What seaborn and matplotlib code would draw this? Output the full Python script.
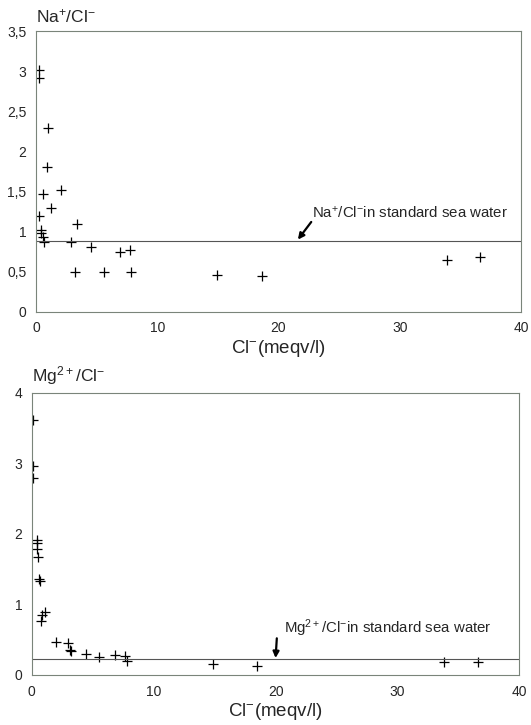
import matplotlib
matplotlib.use("Agg")
import matplotlib.pyplot as plt
import seaborn as sns
import pandas as pd
from matplotlib.ticker import FuncFormatter

# Na+/Cl- panel
na_cl = [0.27, 0.27, 1.0, 0.88, 0.6, 2.04, 1.24, 0.22, 3.36, 0.39, 0.44, 0.6,
         0.69, 2.87, 4.52, 6.94, 7.77, 3.22, 5.62, 7.85, 14.9, 18.6, 33.9, 36.6]
na_ratio = [3.01, 2.92, 2.29, 1.81, 1.47, 1.52, 1.29, 1.19, 1.09, 1.02, 0.98, 0.93,
            0.87, 0.87, 0.81, 0.75, 0.77, 0.50, 0.50, 0.50, 0.46, 0.44, 0.64, 0.68]
na_sea = 0.88

# Mg2+/Cl- panel
mg_cl = [0.13, 0.13, 0.13, 0.4, 0.45, 0.45, 0.5, 0.6, 0.65, 1.07, 0.8, 0.75, 1.96,
         2.95, 3.13, 3.2, 4.47, 5.5, 6.84, 7.64, 7.77, 14.9, 18.5, 33.8, 36.6]
mg_ratio = [3.61, 2.97, 2.80, 1.92, 1.87, 1.78, 1.67, 1.36, 1.33, 0.90, 0.85, 0.77, 0.47,
            0.46, 0.36, 0.34, 0.30, 0.25, 0.29, 0.27, 0.20, 0.15, 0.13, 0.19, 0.18]
mg_sea = 0.22

top_ticks = [0, 0.5, 1, 1.5, 2, 2.5, 3, 3.5]
bottom_ticks = [0, 1, 2, 3, 4]
x_ticks = [0, 10, 20, 30, 40]

sns.set_style("white")
plt.rcParams["font.family"] = ["Liberation Sans", "DejaVu Sans"]
plt.rcParams["mathtext.default"] = "regular"

fig = plt.figure(figsize=(5.31, 7.25), dpi=100)
ax1 = fig.add_axes([0.068, 0.570, 0.913, 0.387])
ax2 = fig.add_axes([0.060, 0.069, 0.918, 0.389])

spine_col = "#7a847a"
comma = FuncFormatter(lambda v, p: ("%g" % v).replace(".", ","))


def style(ax, yticks, ymax):
    ax.set_xlim(0, 40)
    ax.set_ylim(0, ymax)
    ax.set_xticks(x_ticks)
    ax.set_yticks(yticks)
    ax.yaxis.set_major_formatter(comma)
    ax.tick_params(direction="in", length=3, width=0.6, color=spine_col,
                   labelsize=10, pad=7)
    for s in ax.spines.values():
        s.set_color(spine_col)
        s.set_linewidth(0.8)
    ax.set_xlabel("Cl$^{-}$(meqv/l)", fontsize=13.5, labelpad=2)
    ax.set_ylabel("")


def sea_label(ax, text, tail, tip, pos):
    ax.annotate("", xy=tip, xytext=tail,
                arrowprops=dict(arrowstyle="-|>", color="black", lw=1.6,
                                mutation_scale=9, shrinkA=0, shrinkB=0))
    ax.text(pos[0], pos[1], text, fontsize=10.8, ha="left", va="center")


df1 = pd.DataFrame({"cl": na_cl, "ratio": na_ratio})
sns.scatterplot(data=df1, x="cl", y="ratio", marker="+", color="black",
                s=55, linewidth=0.9, ax=ax1)
ax1.axhline(na_sea, color="#555555", lw=0.8)
style(ax1, top_ticks, 3.5)
ax1.text(0.0, 1.02, "Na$^{+}$/Cl$^{-}$", transform=ax1.transAxes,
         fontsize=12.5, ha="left", va="bottom")
sea_label(ax1, "Na$^{+}$/Cl$^{-}$in standard sea water",
          (22.7, 1.12), (21.6, na_sea + 0.02), (22.8, 1.24))

df2 = pd.DataFrame({"cl": mg_cl, "ratio": mg_ratio})
sns.scatterplot(data=df2, x="cl", y="ratio", marker="+", color="black",
                s=55, linewidth=0.9, ax=ax2)
ax2.axhline(mg_sea, color="#555555", lw=0.8)
style(ax2, bottom_ticks, 4)
ax2.text(0.0, 1.02, "Mg$^{2+}$/Cl$^{-}$", transform=ax2.transAxes,
         fontsize=12.5, ha="left", va="bottom")
sea_label(ax2, "Mg$^{2+}$/Cl$^{-}$in standard sea water",
          (20.1, 0.52), (20.0, mg_sea + 0.02), (20.7, 0.67))

fig.savefig("out.png", dpi=100)
